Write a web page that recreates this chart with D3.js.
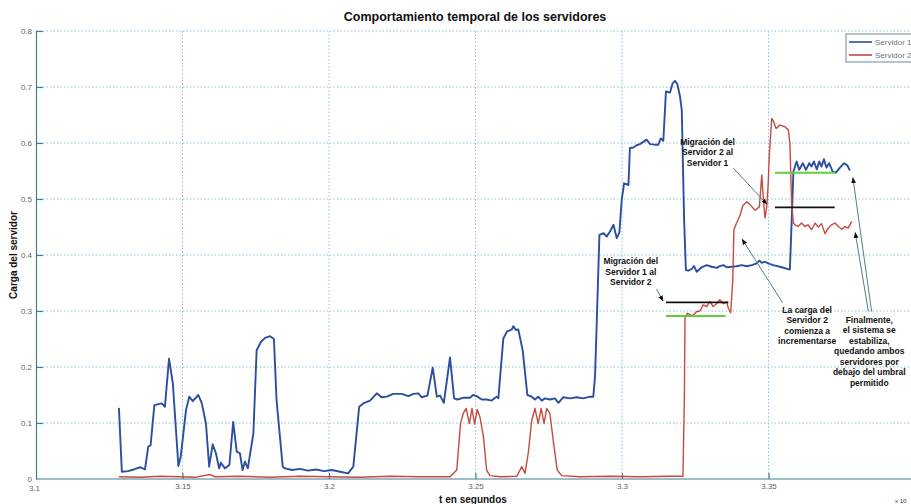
<!DOCTYPE html>
<html><head><meta charset="utf-8">
<script src="https://cdn.jsdelivr.net/npm/d3@7"></script>
<style>body{margin:0;background:#fff;overflow:hidden}</style>
</head><body><svg id="c" width="911" height="504"></svg>
<script>
const chartTitle = "Comportamiento temporal de los servidores";
const xLabel = "t en segundos";
const yLabel = "Carga del servidor";
const seriesNames = ["Servidor 1", "Servidor 2"];
const xTicks = [3.1, 3.15, 3.2, 3.25, 3.3, 3.35];
const xTickLabels = ["3.1", "3.15", "3.2", "3.25", "3.3", "3.35"];
const yTicks = [0, 0.1, 0.2, 0.3, 0.4, 0.5, 0.6, 0.7, 0.8];
const yTickLabels = ["0", "0.1", "0.2", "0.3", "0.4", "0.5", "0.6", "0.7", "0.8"];

// Servidor 1 (blue)
const s1T = [3.1283,3.1293,3.1314,3.1334,3.1355,3.1372,3.1383,3.1391,3.1404,3.1429,3.1440,3.1454,3.1467,3.1486,3.1494,3.1512,3.1523,3.1535,3.1554,3.1566,3.1580,3.1591,3.1603,3.1614,3.1625,3.1631,3.1645,3.1660,3.1673,3.1685,3.1696,3.1705,3.1713,3.1723,3.1742,3.1753,3.1768,3.1782,3.1799,3.1812,3.1821,3.1842,3.1850,3.1874,3.1901,3.1928,3.1956,3.1983,3.2010,3.2038,3.2065,3.2083,3.2103,3.2117,3.2140,3.2163,3.2180,3.2197,3.2219,3.2248,3.2271,3.2288,3.2305,3.2316,3.2336,3.2354,3.2368,3.2379,3.2392,3.2413,3.2427,3.2438,3.2458,3.2481,3.2492,3.2504,3.2521,3.2538,3.2555,3.2572,3.2578,3.2595,3.2607,3.2624,3.2629,3.2638,3.2646,3.2661,3.2677,3.2692,3.2703,3.2714,3.2726,3.2737,3.2754,3.2771,3.2783,3.2800,3.2823,3.2845,3.2868,3.2891,3.2902,3.2908,3.2915,3.2923,3.2937,3.2948,3.2959,3.2971,3.2982,3.2991,3.2999,3.3007,3.3022,3.3027,3.3039,3.3050,3.3061,3.3073,3.3084,3.3096,3.3113,3.3124,3.3132,3.3141,3.3150,3.3164,3.3173,3.3181,3.3189,3.3198,3.3204,3.3212,3.3218,3.3226,3.3238,3.3246,3.3255,3.3272,3.3289,3.3306,3.3323,3.3334,3.3346,3.3357,3.3374,3.3391,3.3409,3.3426,3.3443,3.3460,3.3469,3.3477,3.3488,3.3499,3.3516,3.3539,3.3573,3.3579,3.3585,3.3596,3.3605,3.3617,3.3628,3.3639,3.3647,3.3655,3.3665,3.3673,3.3681,3.3689,3.3698,3.3707,3.3719,3.3730,3.3744,3.3758,3.3769,3.3778];
const s1V = [0.127,0.013,0.014,0.017,0.021,0.017,0.058,0.060,0.132,0.135,0.129,0.215,0.171,0.023,0.040,0.123,0.147,0.139,0.150,0.135,0.099,0.022,0.062,0.046,0.019,0.029,0.019,0.025,0.102,0.049,0.046,0.016,0.031,0.019,0.082,0.230,0.245,0.252,0.255,0.250,0.141,0.022,0.019,0.016,0.018,0.015,0.017,0.014,0.016,0.013,0.010,0.022,0.129,0.135,0.140,0.153,0.146,0.147,0.152,0.152,0.148,0.152,0.153,0.146,0.149,0.199,0.147,0.149,0.136,0.217,0.144,0.142,0.145,0.145,0.150,0.148,0.142,0.142,0.140,0.147,0.144,0.251,0.263,0.267,0.273,0.266,0.267,0.230,0.150,0.147,0.142,0.147,0.140,0.144,0.142,0.144,0.136,0.146,0.144,0.146,0.144,0.147,0.147,0.183,0.300,0.436,0.439,0.433,0.442,0.454,0.430,0.440,0.498,0.528,0.525,0.591,0.592,0.596,0.598,0.602,0.606,0.598,0.597,0.597,0.608,0.604,0.692,0.690,0.707,0.711,0.705,0.683,0.659,0.463,0.373,0.372,0.375,0.380,0.370,0.378,0.382,0.379,0.377,0.380,0.382,0.378,0.379,0.380,0.382,0.380,0.382,0.385,0.390,0.386,0.388,0.385,0.382,0.379,0.374,0.460,0.549,0.567,0.552,0.564,0.552,0.564,0.558,0.567,0.553,0.567,0.558,0.571,0.556,0.564,0.549,0.547,0.556,0.564,0.560,0.551];

// Servidor 2 (red)
const s2T = [3.1283,3.1355,3.1423,3.1491,3.1543,3.1594,3.1611,3.1696,3.1799,3.1901,3.2003,3.2106,3.2208,3.2311,3.2413,3.2436,3.2449,3.2458,3.2468,3.2479,3.2488,3.2497,3.2506,3.2515,3.2527,3.2538,3.2549,3.2584,3.2641,3.2658,3.2669,3.2680,3.2692,3.2703,3.2714,3.2724,3.2734,3.2743,3.2754,3.2765,3.2779,3.2794,3.2857,3.2959,3.3061,3.3164,3.3208,3.3213,3.3215,3.3224,3.3234,3.3243,3.3255,3.3266,3.3277,3.3289,3.3300,3.3311,3.3323,3.3334,3.3346,3.3357,3.3363,3.3371,3.3378,3.3382,3.3391,3.3403,3.3412,3.3426,3.3437,3.3454,3.3469,3.3477,3.3482,3.3488,3.3494,3.3499,3.3503,3.3511,3.3516,3.3526,3.3539,3.3556,3.3568,3.3573,3.3579,3.3585,3.3590,3.3601,3.3613,3.3624,3.3635,3.3647,3.3659,3.3670,3.3681,3.3693,3.3704,3.3715,3.3727,3.3738,3.3750,3.3761,3.3772,3.3784];
const s2V = [0.004,0.003,0.005,0.004,0.003,0.008,0.004,0.005,0.003,0.005,0.004,0.003,0.005,0.004,0.004,0.016,0.099,0.117,0.126,0.099,0.126,0.098,0.124,0.111,0.076,0.016,0.006,0.004,0.005,0.022,0.010,0.046,0.105,0.126,0.099,0.126,0.099,0.126,0.117,0.070,0.016,0.006,0.004,0.005,0.004,0.005,0.005,0.150,0.290,0.296,0.293,0.292,0.299,0.300,0.311,0.308,0.317,0.308,0.313,0.320,0.313,0.316,0.305,0.297,0.355,0.445,0.457,0.471,0.488,0.495,0.490,0.480,0.486,0.543,0.504,0.466,0.486,0.528,0.581,0.644,0.640,0.626,0.632,0.629,0.623,0.599,0.492,0.457,0.454,0.451,0.457,0.451,0.454,0.445,0.457,0.450,0.456,0.438,0.448,0.454,0.457,0.451,0.446,0.451,0.448,0.460];

// reference segments: [t0, t1, value]
const greenLines = [[3.3150, 3.3354, 0.291], [3.3522, 3.3728, 0.547]];
const blackLines = [[3.3150, 3.3363, 0.3155], [3.3522, 3.3726, 0.485]];

// annotations: centre t, top-line value, lines
const noteT = [3.3292, 3.3030, 3.3632, 3.3844];
const noteV = [0.602, 0.389, 0.302, 0.284];
const noteLines = [
  ["Migración del", "Servidor 2 al", "Servidor 1"],
  ["Migración del", "Servidor 1 al", "Servidor 2"],
  ["La carga del", "Servidor 2", "comienza a", "incrementarse"],
  ["Finalmente,", "el sistema se", "estabiliza,", "quedando ambos", "servidores por", "debajo del umbral", "permitido"]
];
// arrows: [t0, v0, t1, v1]
const arrows = [
  [3.3380, 0.555, 3.3494, 0.491],
  [3.3118, 0.339, 3.3140, 0.318],
  [3.3548, 0.315, 3.3410, 0.428],
  [3.3852, 0.299, 3.3788, 0.538],
  [3.3841, 0.299, 3.3796, 0.440]
];

const FONT = "'Liberation Sans Narrow','Arial Narrow','Liberation Sans',Arial,sans-serif";
const svg = d3.select("#c");
const x = d3.scaleLinear().domain([3.1, 3.4]).range([36, 915]);
const y = d3.scaleLinear().domain([0, 0.8]).range([479, 31]);

const defs = svg.append("defs");
defs.append("marker").attr("id", "ah").attr("viewBox", "0 0 10 10").attr("refX", 9).attr("refY", 5)
  .attr("markerWidth", 6).attr("markerHeight", 6).attr("orient", "auto")
  .append("path").attr("d", "M0,1 L10,5 L0,9 z").attr("fill", "#111");

// grid
const grid = svg.append("g");
grid.selectAll(".gy").data(yTicks.slice(1)).join("line")
  .attr("x1", 36).attr("x2", 911).attr("y1", d => y(d)).attr("y2", d => y(d))
  .attr("stroke", "#8fc0dc").attr("stroke-width", 1).attr("stroke-dasharray", "1.5,2");
grid.selectAll(".gx").data(xTicks.slice(1)).join("line")
  .attr("x1", d => x(d)).attr("x2", d => x(d)).attr("y1", 31).attr("y2", 479)
  .attr("stroke", "#8fc0dc").attr("stroke-width", 1).attr("stroke-dasharray", "1.5,2");

// axes
const axCol = "#3f7f8d";
const gy = svg.append("g").attr("transform", "translate(36,0)")
  .call(d3.axisLeft(y).tickValues(yTicks).tickFormat((d, i) => yTickLabels[i]).tickSizeInner(-7).tickSizeOuter(0).tickPadding(4));
const gx = svg.append("g").attr("transform", "translate(0,479)")
  .call(d3.axisBottom(x).tickValues(xTicks).tickFormat((d, i) => xTickLabels[i]).tickSizeInner(-6).tickSizeOuter(0).tickPadding(4));
[gy, gx].forEach(g => {
  g.select(".domain").attr("stroke", axCol).attr("stroke-width", 1.2);
  g.selectAll(".tick line").attr("stroke", axCol).attr("stroke-width", 1.2);
  g.selectAll(".tick text").attr("fill", "#5a6468").style("font-family", FONT).style("font-size", "8px");
});
gx.select(".domain").attr("d", "M36,0H911");
gx.selectAll(".tick").filter(d => d === 3.1).select("line").remove();
gx.selectAll(".tick").filter(d => d === 3.1).select("text").attr("dx", "-2").attr("y", 6);
gy.selectAll(".tick").filter(d => d === 0).select("line").remove();

// lines
const line = d3.line().x(d => x(d[0])).y(d => y(d[1]));
const s1 = s1T.map((t, i) => [t, s1V[i]]);
const s2 = s2T.map((t, i) => [t, s2V[i]]);
svg.append("path").datum(s1).attr("d", line).attr("fill", "none")
  .attr("stroke", "#2b4f9e").attr("stroke-width", 1.9).attr("stroke-linejoin", "round");
svg.append("path").datum(s2).attr("d", line).attr("fill", "none")
  .attr("stroke", "#c64a40").attr("stroke-width", 1.4).attr("stroke-linejoin", "round");

// reference segments
svg.selectAll(".gl").data(greenLines).join("line")
  .attr("x1", d => x(d[0])).attr("x2", d => x(d[1])).attr("y1", d => y(d[2])).attr("y2", d => y(d[2]))
  .attr("stroke", "#5fd03a").attr("stroke-width", 2);
svg.selectAll(".bl").data(blackLines).join("line")
  .attr("x1", d => x(d[0])).attr("x2", d => x(d[1])).attr("y1", d => y(d[2])).attr("y2", d => y(d[2]))
  .attr("stroke", "#111").attr("stroke-width", 1.8);

// arrows
svg.selectAll(".ar").data(arrows).join("line")
  .attr("x1", d => x(d[0])).attr("y1", d => y(d[1])).attr("x2", d => x(d[2])).attr("y2", d => y(d[3]))
  .attr("stroke", "#4d7f8a").attr("stroke-width", 1).attr("marker-end", "url(#ah)");

// notes
noteLines.forEach((lines, i) => {
  const t = svg.append("text").attr("text-anchor", "middle")
    .style("font-family", FONT).style("font-size", "8.5px").style("font-weight", "bold").attr("fill", "#111");
  lines.forEach((s, j) => {
    t.append("tspan").attr("x", x(noteT[i])).attr("y", y(noteV[i]) + 3 + j * 10.5).text(s);
  });
});

// title & labels
svg.append("text").attr("x", 475).attr("y", 21).attr("text-anchor", "middle")
  .style("font-family", FONT).style("font-size", "12.5px").style("font-weight", "bold").attr("fill", "#111").text(chartTitle);
svg.append("text").attr("x", 473).attr("y", 503).attr("text-anchor", "middle")
  .style("font-family", FONT).style("font-size", "10px").style("font-weight", "bold").attr("fill", "#111").text(xLabel);
svg.append("text").attr("transform", "translate(17,255) rotate(-90)").attr("text-anchor", "middle")
  .style("font-family", FONT).style("font-size", "10px").style("font-weight", "bold").attr("fill", "#111").text(yLabel);
svg.append("text").attr("x", 895).attr("y", 503)
  .style("font-family", FONT).style("font-size", "6px").attr("fill", "#333").text("x 10");

// legend
const lg = svg.append("g");
lg.append("rect").attr("x", 846).attr("y", 34).attr("width", 80).attr("height", 28)
  .attr("fill", "#fff").attr("stroke", "#6a8a95").attr("stroke-width", 1);
const legCols = ["#2b4f9e", "#c64a40"];
seriesNames.forEach((n, i) => {
  const yy = 42 + i * 13;
  lg.append("line").attr("x1", 849).attr("x2", 872).attr("y1", yy).attr("y2", yy)
    .attr("stroke", legCols[i]).attr("stroke-width", 1.6);
  lg.append("text").attr("x", 875).attr("y", yy + 3)
    .style("font-family", FONT).style("font-size", "8px").attr("fill", "#6a7479").text(n);
});
</script></body></html>
